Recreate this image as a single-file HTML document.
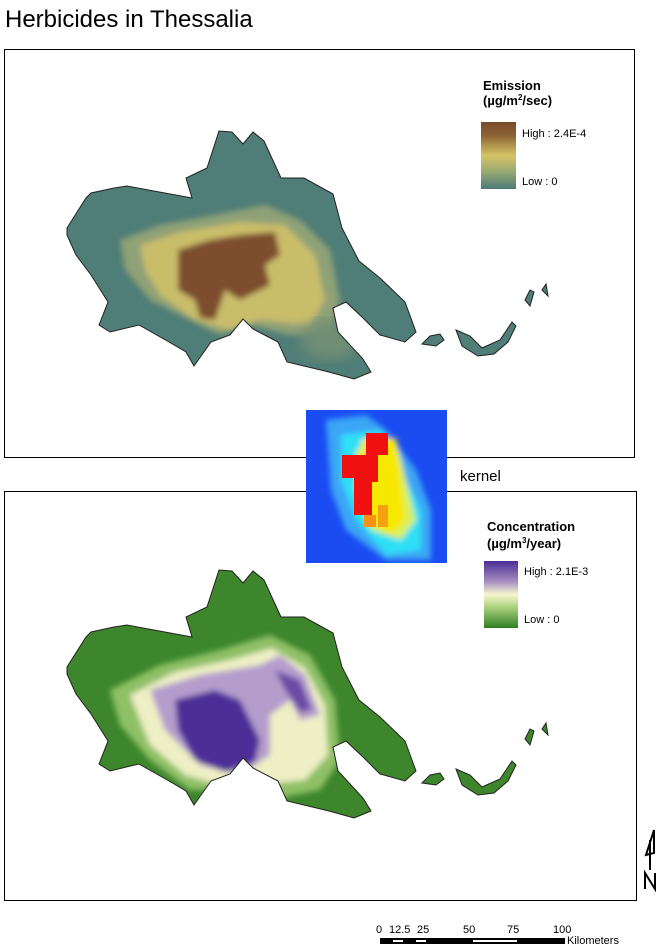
<!DOCTYPE html>
<html><head><meta charset="utf-8"><style>
body{margin:0;background:#fff;}
svg{display:block;font-family:"Liberation Sans",Arial,sans-serif;}
</style></head><body>
<svg width="661" height="945" viewBox="0 0 661 945">
<defs>
<clipPath id="c1"><path id="shape" d="M67,228 L86,198 L91,193 L114,188 L127,186 L143,189 L192,198 L186,178 L207,168 L219,131 L232,132 L243,144 L253,132 L264,141 L281,178 L304,178 L333,194 L342,228 L359,261 L380,278 L405,302 L416,332 L405,342 L380,335 L363,318 L346,302 L333,308 L338,332 L363,359 L371,372 L354,379 L329,372 L287,362 L278,342 L253,329 L243,319 L230,335 L211,342 L194,366 L186,352 L169,342 L139,325 L110,332 L99,325 L108,302 L91,275 L76,255 L67,235 Z
M422,344 L430,336 L440,334 L444,340 L436,346 Z
M456,330 L470,336 L482,348 L500,340 L512,322 L516,326 L508,342 L494,354 L478,356 L462,346 Z
M525,300 L530,290 L534,292 L530,306 Z M542,290 L546,284 L548,296 Z"/></clipPath>
<clipPath id="c2"><use href="#shape" transform="translate(0,439)"/></clipPath>
<filter id="bl"><feGaussianBlur stdDeviation="7"/></filter>
<filter id="bl2"><feGaussianBlur stdDeviation="3"/></filter>
<linearGradient id="g1" x1="0" y1="0" x2="0" y2="1"><stop offset="0" stop-color="#7a4a2c"/><stop offset=".2" stop-color="#8c6336"/><stop offset=".5" stop-color="#d6c466"/><stop offset=".75" stop-color="#96a873"/><stop offset="1" stop-color="#4b7a78"/></linearGradient>
<linearGradient id="g2" x1="0" y1="0" x2="0" y2="1"><stop offset="0" stop-color="#4b2c96"/><stop offset=".3" stop-color="#a48cc0"/><stop offset=".5" stop-color="#f7f6cf"/><stop offset=".7" stop-color="#a8cf7a"/><stop offset="1" stop-color="#2f7e24"/></linearGradient>
</defs>

<text x="5" y="27" font-size="24" fill="#000">Herbicides in Thessalia</text>

<rect x="4.5" y="49.5" width="630" height="408" fill="none" stroke="#000" stroke-width="1"/>
<g clip-path="url(#c1)">
<rect x="60" y="120" width="500" height="270" fill="#4f7d77"/>
<g filter="url(#bl2)">
<path d="M120,240 L160,225 L215,215 L265,205 L300,220 L330,250 L340,300 L330,335 L290,335 L250,325 L220,335 L190,320 L150,300 L125,270 Z" fill="#8fa176"/>
<path d="M140,245 L180,232 L240,222 L285,225 L315,255 L325,300 L310,325 L260,320 L230,330 L195,320 L160,295 L145,270 Z" fill="#c9bd6a"/>
<path d="M178,250 L210,240 L240,235 L275,232 L280,255 L265,265 L270,285 L240,300 L225,290 L215,320 L200,318 L195,300 L178,290 Z" fill="#7d4d2e"/>
</g>
<ellipse cx="330" cy="340" rx="30" ry="20" fill="#6f8e74" filter="url(#bl)"/>
</g>
<use href="#shape" fill="none" stroke="#222" stroke-width="1"/>

<text x="483" y="90" font-size="13" font-weight="bold">Emission</text>
<text x="483" y="105" font-size="13" font-weight="bold">(µg/m<tspan dy="-5" font-size="8">2</tspan><tspan dy="5">/sec)</tspan></text>
<rect x="481" y="122" width="35" height="67" fill="url(#g1)"/>
<text x="522" y="137" font-size="11">High : 2.4E-4</text>
<text x="522" y="185" font-size="11">Low : 0</text>

<rect x="4.5" y="491.5" width="632" height="409" fill="none" stroke="#000" stroke-width="1"/>
<g clip-path="url(#c2)">
<rect x="60" y="560" width="500" height="270" fill="#3d862c"/>
<g filter="url(#bl2)">
<path d="M110,690 L160,665 L220,650 L270,635 L310,655 L335,700 L340,760 L320,790 L270,800 L230,790 L190,790 L150,760 L120,725 Z" fill="#8fc066"/>
<path d="M130,695 L175,672 L230,660 L272,648 L305,668 L325,705 L328,755 L305,780 L260,785 L220,785 L185,775 L150,745 Z" fill="#eeefc4"/>
<path d="M150,690 L200,675 L260,665 L280,655 L305,675 L320,715 L300,720 L290,700 L270,715 L270,755 L240,775 L200,765 L165,730 Z" fill="#b49dcc"/>
<path d="M175,700 L215,690 L240,700 L260,740 L255,762 L225,772 L195,760 L178,730 Z" fill="#4d2d97"/>
<path d="M275,670 L300,680 L312,710 L300,712 L285,690 Z" fill="#6b4ca5"/>
</g>
</g>
<use href="#shape" transform="translate(0,439)" fill="none" stroke="#222" stroke-width="1"/>

<text x="487" y="531" font-size="13" font-weight="bold">Concentration</text>
<text x="487" y="548" font-size="13" font-weight="bold">(µg/m<tspan dy="-5" font-size="8">3</tspan><tspan dy="5">/year)</tspan></text>
<rect x="484" y="561" width="34" height="67" fill="url(#g2)"/>
<text x="524" y="575" font-size="11">High : 2.1E-3</text>
<text x="524" y="623" font-size="11">Low : 0</text>

<!-- kernel -->
<svg x="306" y="410" width="141" height="153" viewBox="0 0 141 153">
<rect width="141" height="153" fill="#1a4cf2"/>
<g filter="url(#bl2)">
<path d="M20,10 L60,5 L80,20 L110,60 L125,100 L125,150 L80,150 L40,120 L25,80 Z" fill="#3aa6f5"/>
<path d="M35,25 L75,20 L95,60 L115,100 L115,140 L80,145 L50,110 L35,70 Z" fill="#2de0f5"/>
<path d="M50,40 L90,30 L100,70 L110,110 L95,130 L65,120 L50,80 Z" fill="#d6f060"/>
<path d="M55,30 L90,28 L95,70 L100,110 L85,125 L62,112 L55,70 Z" fill="#f7e800"/>
</g>
<path d="M60,23 L82,23 L82,45 L72,45 L72,72 L66,72 L66,105 L48,105 L48,68 L36,68 L36,45 L60,45 Z" fill="#f01010"/>
<rect x="58" y="105" width="12" height="12" fill="#f59010"/>
<rect x="72" y="95" width="10" height="22" fill="#f5a010"/>
</svg>
<text x="460" y="481" font-size="15">kernel</text>

<!-- north arrow -->
<g stroke="#000" stroke-width="2" fill="none">
<path d="M654,830 L646,855 L654,853 Z"/>
<line x1="650" y1="840" x2="650" y2="870"/>
<path d="M645,889 L645,873 L655,889 L655,873"/>
</g>

<!-- scale bar -->
<g font-size="11">
<text x="376" y="933">0</text><text x="389" y="933">12.5</text><text x="417" y="933">25</text>
<text x="463" y="933">50</text><text x="507" y="933">75</text><text x="553" y="933">100</text>
<text x="567" y="944">Kilometers</text>
</g>
<rect x="380" y="938" width="185" height="6" fill="#000"/>
<rect x="393" y="940" width="10" height="2" fill="#fff"/>
<rect x="416" y="940" width="10" height="2" fill="#fff"/>
<rect x="473" y="940" width="44" height="2" fill="#fff"/>
</svg>
</body></html>
